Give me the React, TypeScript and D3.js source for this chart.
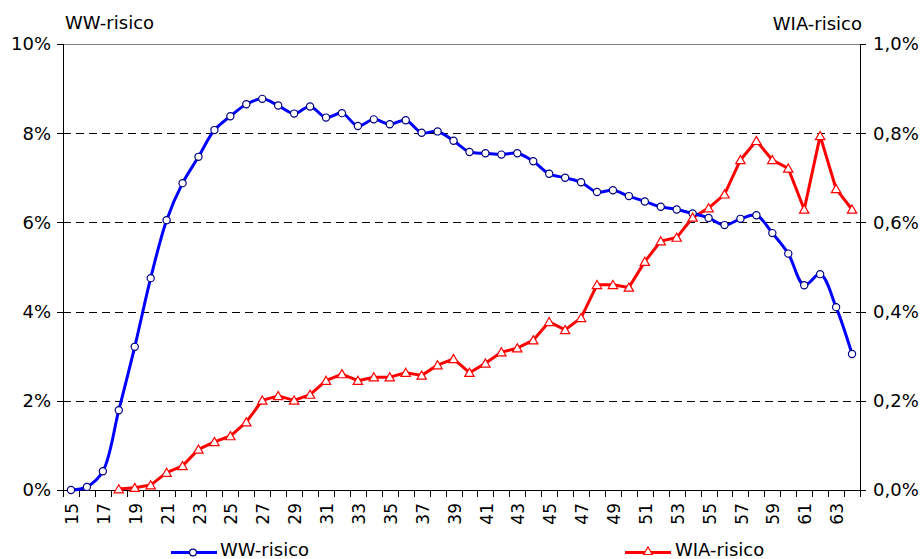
import React from "react";
import * as d3 from "d3";

const ages: number[] = d3.range(15, 65);

const wwRisk: (number | null)[] = [
  0.0, 0.07, 0.42, 1.79, 3.21, 4.75, 6.05, 6.88, 7.47, 8.07,
  8.38, 8.65, 8.77, 8.62, 8.44, 8.6, 8.35, 8.45, 8.16, 8.31,
  8.2, 8.29, 8.01, 8.04, 7.83, 7.58, 7.55, 7.52, 7.55, 7.37,
  7.09, 7.0, 6.9, 6.68, 6.72, 6.59, 6.47, 6.35, 6.29, 6.2,
  6.1, 5.94, 6.08, 6.16, 5.76, 5.3, 4.59, 4.84, 4.1, 3.05,
];

const wiaRisk: (number | null)[] = [
  null, null, null, 0.002, 0.005, 0.011, 0.039, 0.054, 0.091, 0.108,
  0.121, 0.152, 0.201, 0.211, 0.201, 0.214, 0.245, 0.26, 0.245, 0.253,
  0.253, 0.263, 0.257, 0.28, 0.294, 0.263, 0.284, 0.309, 0.318, 0.336,
  0.377, 0.359, 0.386, 0.46, 0.46, 0.454, 0.512, 0.558, 0.566, 0.611,
  0.632, 0.663, 0.74, 0.783, 0.74, 0.721, 0.629, 0.794, 0.675, 0.629,
];

const leftTicks = [0, 2, 4, 6, 8, 10];
const rightTicks = [0, 0.2, 0.4, 0.6, 0.8, 1.0];
const leftTitle = "WW-risico";
const rightTitle = "WIA-risico";

const W = 923;
const H = 559;
const M = { left: 63, right: 860, top: 44, bottom: 490 };
const FONT = "'DejaVu Sans', Verdana, sans-serif";

export default function App() {
  const x = d3
    .scaleBand<number>()
    .domain(ages)
    .range([M.left, M.right])
    .paddingInner(0)
    .paddingOuter(0);
  const cx = (a: number) => (x(a) as number) + x.bandwidth() / 2;
  const yL = d3.scaleLinear().domain([0, 10]).range([M.bottom, M.top]);
  const yR = d3.scaleLinear().domain([0, 1]).range([M.bottom, M.top]);

  const wwPts = ages
    .map((a, i) => ({ a, v: wwRisk[i] }))
    .filter((d) => d.v != null) as { a: number; v: number }[];
  const wiaPts = ages
    .map((a, i) => ({ a, v: wiaRisk[i] }))
    .filter((d) => d.v != null) as { a: number; v: number }[];

  const wwLine = d3
    .line<{ a: number; v: number }>()
    .x((d) => cx(d.a))
    .y((d) => yL(d.v))
    .curve(d3.curveCatmullRom.alpha(0.5));
  const wiaLine = d3
    .line<{ a: number; v: number }>()
    .x((d) => cx(d.a))
    .y((d) => yR(d.v));

  const tri = d3.symbol().type(d3.symbolTriangle).size(38)() as string;
  const triSmall = d3.symbol().type(d3.symbolTriangle).size(32)() as string;

  const boundaries = d3.range(ages.length + 1).map(
    (i) => M.left + i * x.bandwidth()
  );

  return (
    <svg
      width={W}
      height={H}
      style={{ position: "absolute", left: 0, top: 0, background: "#fff" }}
      fontFamily={FONT}
    >
      <rect x={0} y={0} width={W} height={H} fill="#fff" />
      {leftTicks
        .filter((t) => t > 0 && t < 10)
        .map((t) => (
          <line
            key={"g" + t}
            x1={M.left}
            x2={M.right}
            y1={Math.round(yL(t)) + 0.5}
            y2={Math.round(yL(t)) + 0.5}
            stroke="#000"
            strokeWidth={1}
            strokeDasharray="8,5"
          />
        ))}
      <line
        x1={M.left}
        x2={M.right}
        y1={M.top + 0.5}
        y2={M.top + 0.5}
        stroke="#808080"
        strokeWidth={1}
      />
      <line x1={M.left + 0.5} x2={M.left + 0.5} y1={M.top} y2={M.bottom} stroke="#000" />
      {leftTicks.map((t) => (
        <g key={"l" + t}>
          <line
            x1={M.left - 6}
            x2={M.left}
            y1={Math.round(yL(t)) + 0.5}
            y2={Math.round(yL(t)) + 0.5}
            stroke="#000"
          />
          <text
            x={M.left - 12}
            y={yL(t)}
            dy="0.36em"
            textAnchor="end"
            fontSize={18}
            fill="#000"
          >
            {t + "%"}
          </text>
        </g>
      ))}
      <line x1={M.right + 0.5} x2={M.right + 0.5} y1={M.top} y2={M.bottom} stroke="#000" />
      {rightTicks.map((t) => (
        <g key={"r" + t}>
          <line
            x1={M.right}
            x2={M.right + 6}
            y1={Math.round(yR(t)) + 0.5}
            y2={Math.round(yR(t)) + 0.5}
            stroke="#000"
          />
          <text
            x={M.right + 13}
            y={yR(t)}
            dy="0.36em"
            textAnchor="start"
            fontSize={18}
            fill="#000"
          >
            {t.toFixed(1).replace(".", ",") + "%"}
          </text>
        </g>
      ))}
      <line x1={M.left} x2={M.right + 1} y1={M.bottom + 0.5} y2={M.bottom + 0.5} stroke="#000" />
      {boundaries.map((b, i) => (
        <line
          key={"t" + i}
          x1={Math.round(b) + 0.5}
          x2={Math.round(b) + 0.5}
          y1={M.bottom}
          y2={M.bottom + 7}
          stroke="#000"
        />
      ))}
      {ages
        .filter((a) => a % 2 === 1)
        .map((a) => (
          <text
            key={"x" + a}
            transform={`translate(${cx(a) + 1},${M.bottom + 13}) rotate(-90)`}
            textAnchor="end"
            dy="0.36em"
            fontSize={17}
            fill="#000"
          >
            {a}
          </text>
        ))}
      <text x={65} y={29} fontSize={18} fill="#000">
        {leftTitle}
      </text>
      <text x={862} y={30} fontSize={18} fill="#000" textAnchor="end">
        {rightTitle}
      </text>
      <path d={wiaLine(wiaPts) as string} fill="none" stroke="#ff0000" strokeWidth={3} strokeLinejoin="round" />
      <path d={wwLine(wwPts) as string} fill="none" stroke="#0000ff" strokeWidth={3} strokeLinejoin="round" />
      {wwPts.map((d) => (
        <circle
          key={"c" + d.a}
          cx={cx(d.a)}
          cy={yL(d.v)}
          r={3.6}
          fill="#fff"
          stroke="#000080"
          strokeWidth={1.2}
        />
      ))}
      {wiaPts.map((d) => (
        <path
          key={"p" + d.a}
          d={tri}
          transform={`translate(${cx(d.a)},${yR(d.v) + 1})`}
          fill="#fff"
          stroke="#ff0000"
          strokeWidth={1.2}
        />
      ))}
      <line x1={171} x2={217} y1={552.5} y2={552.5} stroke="#0000ff" strokeWidth={3} />
      <circle cx={193} cy={552.5} r={3.4} fill="#fff" stroke="#000080" strokeWidth={1.2} />
      <text x={220} y={556} fontSize={18} fill="#000">
        {leftTitle}
      </text>
      <line x1={625} x2={671} y1={552.5} y2={552.5} stroke="#ff0000" strokeWidth={3} />
      <path d={triSmall} transform="translate(648,552)" fill="#fff" stroke="#ff0000" strokeWidth={1.2} />
      <text x={675} y={556} fontSize={18} fill="#000">
        {rightTitle}
      </text>
    </svg>
  );
}
